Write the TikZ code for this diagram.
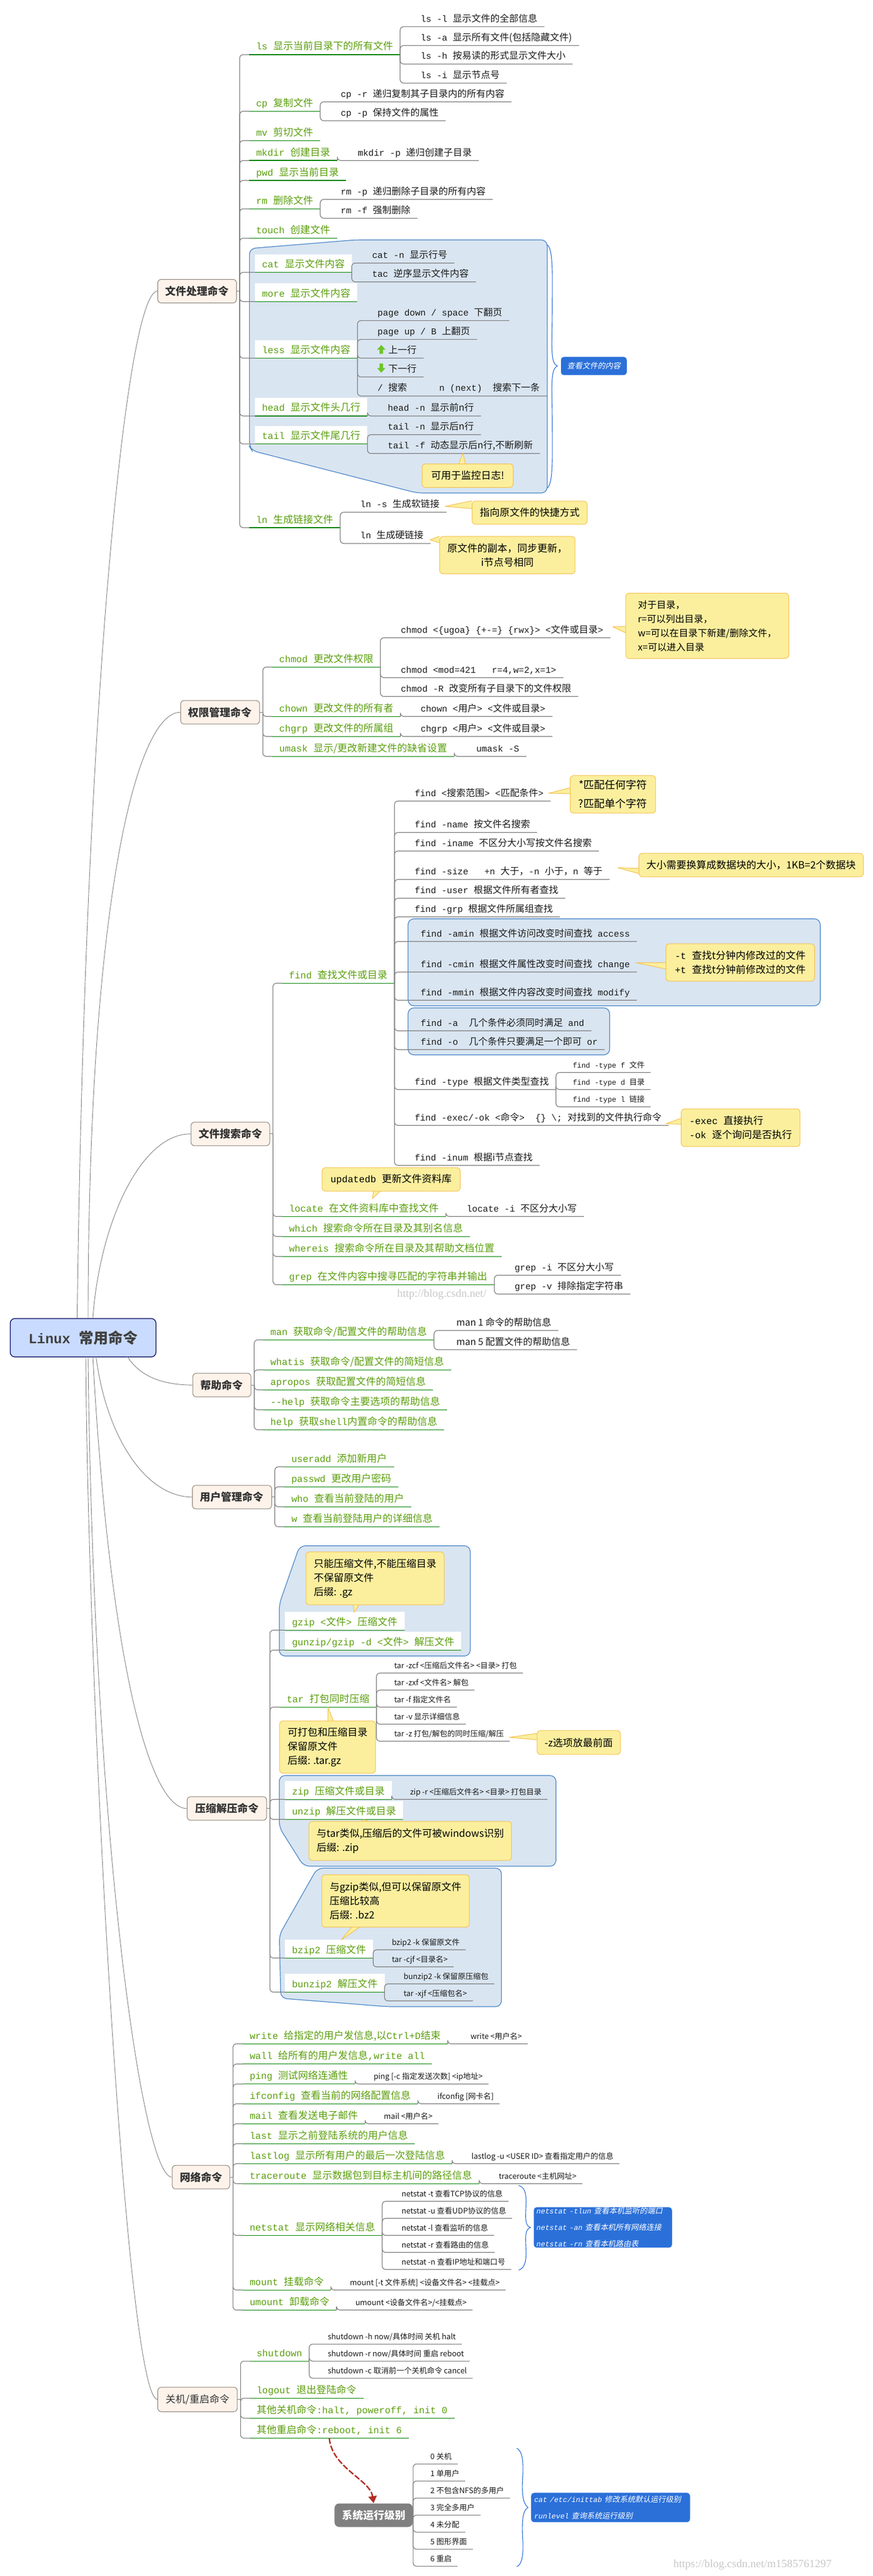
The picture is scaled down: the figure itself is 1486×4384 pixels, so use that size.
\documentclass[tikz,border=0pt]{standalone}
\usepackage{fontspec}
\setmainfont{Noto Sans CJK SC}
\setmonofont{Liberation Mono}[Scale=0.95]
\newfontfamily\slantcjk{Noto Sans CJK SC}[FakeSlant=0.2]
\newfontfamily\markfont{Liberation Serif}
\usetikzlibrary{arrows.meta}
\definecolor{leafgreen}{HTML}{5A9E0C}
\definecolor{rulegreen}{HTML}{0A840A}
\definecolor{stemgrey}{HTML}{808080}
\definecolor{groupblue}{HTML}{D9E5F1}
\definecolor{edgeblue}{HTML}{4A86C8}
\definecolor{notefill}{HTML}{FBEF9E}
\definecolor{noteedge}{HTML}{F5C04F}
\definecolor{pillblue}{HTML}{2B70D9}
\definecolor{topicfill}{HTML}{FDF3EA}
\definecolor{topicedge}{HTML}{8C8378}
\definecolor{rootfill}{HTML}{C9DBFF}
\definecolor{jumpred}{HTML}{B22D24}
\definecolor{keygreen}{HTML}{6CC52A}
\newcommand\m[1]{{\ttfamily #1}}
\newcommand\mi[1]{{\ttfamily\itshape #1}}
\newcommand\hanggreen[2]{\foreach \kid in {#2}{\draw[stem] (#1) |- (\kid.south west); \draw[greenrule] (\kid.south west) -- (\kid.south east);}}
\newcommand\hanggrey[2]{\foreach \kid in {#2}{\draw[stem] (#1) |- (\kid.south west) -- (\kid.south east);}}
\newcommand\hub[1]{\coordinate (#1j) at ([xshift=2.5pt]#1.east); \draw[stem] (#1.east) -- (#1j);}
\tikzset{
	stem/.style = {draw=stemgrey,line width=.6pt,rounded corners=3pt},
	greenrule/.style = {draw=rulegreen,line width=.75pt},
	root link/.style = {draw=stemgrey,line width=.45pt},
	plain row/.style = {anchor=south west,inner xsep=6pt,inner ysep=0pt,outer sep=0pt,text height=11.5pt,text depth=4pt},
	branch/.style = {plain row,text=leafgreen,font=\fontsize{8.5}{10}\selectfont},
	branchw/.style = {branch,fill=white},
	kid/.style = {plain row,text=black!90,font=\fontsize{8}{10}\selectfont},
	tiny/.style = {plain row,inner xsep=5pt,text=black!90,font=\fontsize{6.5}{8}\selectfont},
	topic/.style = {anchor=north west,draw=topicedge,fill=topicfill,rounded corners=3pt,line width=.5pt,inner sep=0pt,minimum height=20pt,text=black!80,font=\fontsize{9}{11}\selectfont\bfseries},
	group/.style = {draw=edgeblue,fill=groupblue,line width=.6pt,rounded corners=5pt},
	note/.style = {anchor=north west,draw=noteedge,fill=notefill,rounded corners=3pt,line width=.5pt,inner sep=0pt,align=left,text=black,font=\fontsize{8.5}{12}\selectfont},
	notetail/.style = {draw=noteedge,fill=notefill,line width=.5pt,line join=round},
	pill/.style = {anchor=north west,fill=pillblue,rounded corners=2.5pt,inner sep=0pt,align=left,text=white,font=\fontsize{6.5}{14}\selectfont\slantcjk},
	bracket/.style = {draw=pillblue,line width=.55pt},
	stamp/.style = {inner sep=0pt,text=black!22,font=\fontsize{9.5}{11}\selectfont\markfont},
	jump/.style = {draw=jumpred,line width=1.2pt,dash pattern=on 5pt off 1.6pt,-{Triangle[length=6pt,width=7pt]}}
}
\begin{document}
\begin{tikzpicture}[x=.5pt,y=-.5pt]
	\useasboundingbox (0,0) rectangle (1486,4384);

	% blue groups sit under everything
	\draw[group] (424.6,423) -- (604,408.3) -- (931.4,408.3) -- (931.4,839) -- (710,839) -- (429,767) -- (424.6,760) -- cycle;
	\draw[group] (694.6,1563.7) rectangle (1396.2,1711.7);
	\draw[group] (694.6,1715.3) rectangle (1037.7,1795.3);
	\draw[group] (510,2630.7) -- (800.4,2630.7) -- (800.4,2818.3) -- (475.4,2818.3) -- (475.4,2730) -- cycle;
	\draw[group] (475.4,3021.7) -- (946.3,3021.7) -- (946.3,3176) -- (517,3176) -- (475.4,3110) -- cycle;
	\draw[group] (540,3179.3) -- (853.5,3179.3) -- (853.5,3415) -- (659,3415) -- (478,3400.7) -- (475.4,3293) -- cycle;

	\node[anchor=north west,draw=black!65!blue,fill=rootfill,rounded corners=4pt,line width=.6pt,inner sep=0pt,minimum width=124pt,minimum height=32.7pt,text=black!75,font=\fontsize{12.5}{14}\selectfont\bfseries] (root) at (16.8,2243.3) {\m{Linux }常用命令};

	% file commands
	\node[topic,minimum width=67pt] (file) at (268,475) {文件处理命令};
	\node[branch] (ls) at (424,93) {\m{ls }显示当前目录下的所有文件};
	\node[kid] (lsa) at (704,45.4) {\m{ls -l }显示文件的全部信息};
	\node[kid] (lsb) at (704,77.5) {\m{ls -a }显示所有文件(包括隐藏文件)};
	\node[kid] (lsc) at (704,109) {\m{ls -h }按易读的形式显示文件大小};
	\node[kid] (lsd) at (704,141.4) {\m{ls -i }显示节点号};
	\node[branch] (cp) at (424,189.3) {\m{cp }复制文件};
	\node[kid] (cpa) at (568,173.2) {\m{cp -r }递归复制其子目录内的所有内容};
	\node[kid] (cpb) at (568,205.4) {\m{cp -p }保持文件的属性};
	\node[branch] (mv) at (424,239.3) {\m{mv }剪切文件};
	\node[branch] (mkdir) at (424,273.2) {\m{mkdir }创建目录};
	\node[kid] (mkdira) at (597,273.2) {\m{mkdir -p }递归创建子目录};
	\node[branch] (pwd) at (424,307) {\m{pwd }显示当前目录};
	\node[branch] (rm) at (424,355.4) {\m{rm }删除文件};
	\node[kid] (rma) at (568,339.3) {\m{rm -p }递归删除子目录的所有内容};
	\node[kid] (rmb) at (568,371.4) {\m{rm -f }强制删除};
	\node[branch] (touch) at (424,405.4) {\m{touch }创建文件};
	\node[branchw] (cat) at (434,463.5) {\m{cat }显示文件内容};
	\node[kid] (cata) at (621.5,447.7) {\m{cat -n }显示行号};
	\node[kid] (catb) at (621.5,479.7) {\m{tac }逆序显示文件内容};
	\node[branchw] (more) at (434,513.3) {\m{more }显示文件内容};
	\node[branchw] (less) at (434,609.5) {\m{less }显示文件内容};
	\node[kid] (lessa) at (630.7,545.6) {\m{page down / space }下翻页};
	\node[kid] (lessb) at (630.7,577.6) {\m{page up / B }上翻页};
	\node[kid] (lessc) at (630.7,609.5) {\hspace{9.2pt}上一行};
	\node[kid] (lessd) at (630.7,641.5) {\hspace{9.2pt}下一行};
	\node[kid] (lesse) at (630.7,673.9) {\m{/ }搜索\m{\ \ \ \ \ \ n (next)\ \ }搜索下一条};
	\node[branchw] (head) at (434,707.9) {\m{head }显示文件头几行};
	\node[kid] (heada) at (648,707.9) {\m{head -n }显示前n行};
	\node[branchw] (tail) at (434,755.6) {\m{tail }显示文件尾几行};
	\node[kid] (taila) at (648,739.8) {\m{tail -n }显示后n行};
	\node[kid] (tailb) at (648,771.8) {\m{tail -f }动态显示后n行,不断刷新};
	\node[branch] (ln) at (424,898) {\m{ln }生成链接文件};
	\node[kid] (lna) at (601.4,871.8) {\m{ln -s }生成软链接};
	\node[kid] (lnb) at (601.4,924.9) {\m{ln }生成硬链接};
	\hub{file}
	\hanggreen{filej}{ls,cp,mv,mkdir,pwd,rm,touch,cat,more,less,head,tail,ln}
	\hanggrey{ls.south east}{lsa,lsb,lsc,lsd}
	\hanggrey{cp.south east}{cpa,cpb}
	\hanggrey{mkdir.south east}{mkdira}
	\hanggrey{rm.south east}{rma,rmb}
	\hanggrey{cat.south east}{cata,catb}
	\hanggrey{less.south east}{lessa,lessb,lessc,lessd,lesse}
	\hanggrey{head.south east}{heada}
	\hanggrey{tail.south east}{taila,tailb}
	\hanggrey{ln.south east}{lna,lnb}
	% the two key arrows
	\fill[keygreen] (649,587) -- (656,595) -- (652,595) -- (652,602) -- (646,602) -- (646,595) -- (642,595) -- cycle;
	\fill[keygreen] (649,634.4) -- (656,626.4) -- (652,626.4) -- (652,618.7) -- (646,618.7) -- (646,626.4) -- (642,626.4) -- cycle;
	\draw[notetail] (781,789) -- (788,771.4) -- (792,789);
	\node[note,minimum width=77.5pt,minimum height=20pt] (monitor) at (718,789) {可用于监控日志!};
	\draw[notetail] (803,852.3) -- (757.5,861.8) -- (803,865.6);
	\node[note,minimum width=98pt,minimum height=19.7pt] (soft) at (803,852.3) {指向原文件的快捷方式};
	\draw[notetail] (748,912.6) -- (731.7,918.7) -- (748,923.7);
	\node[note,align=center,minimum width=115.3pt,minimum height=31.8pt] (hard) at (747.8,912.4) {原文件的副本，同步更新，\\i节点号相同};
	\node[pill,minimum width=56pt,minimum height=15.5pt,align=center] (viewpill) at (954.4,607) {查看文件的内容};
	\coordinate (viewtip) at ([xshift=-2.8pt]viewpill.west);
	\draw[bracket] (931.4,416.6) .. controls (942,424) and (940,470) .. (940,520) .. controls (940,590) and (936,618) .. (viewtip) .. controls (936,628) and (940,660) .. (940,720) .. controls (940,780) and (942,822) .. (931.4,830.7);

	% permission commands
	\node[topic,minimum width=67.2pt] (perm) at (307,1191.7) {权限管理命令};
	\node[branch] (chmod) at (463.4,1135.3) {\m{chmod }更改文件权限};
	\node[kid] (chmoda) at (670.3,1085.3) {\m{chmod <\{ugoa\} \{+-=\} \{rwx\}> <}文件或目录\m{>}};
	\node[kid] (chmodb) at (670.3,1153.3) {\m{chmod <mod=421\ \ \ r=4,w=2,x=1>}};
	\node[kid] (chmodc) at (670.3,1185.3) {\m{chmod -R }改变所有子目录下的文件权限};
	\node[branch] (chown) at (463.4,1219.3) {\m{chown }更改文件的所有者};
	\node[kid] (chowna) at (704,1219.3) {\m{chown <}用户\m{> <}文件或目录\m{>}};
	\node[branch] (chgrp) at (463.4,1253.3) {\m{chgrp }更改文件的所属组};
	\node[kid] (chgrpa) at (704,1253.3) {\m{chgrp <}用户\m{> <}文件或目录\m{>}};
	\node[branch] (umask) at (463.4,1287.3) {\m{umask }显示/更改新建文件的缺省设置};
	\node[kid] (umaska) at (798.8,1287.3) {\m{umask -S}};
	\hub{perm}
	\hanggreen{permj}{chmod,chown,chgrp,umask}
	\hanggrey{chmod.south east}{chmoda,chmodb,chmodc}
	\hanggrey{chown.south east}{chowna}
	\hanggrey{chgrp.south east}{chgrpa}
	\hanggrey{umask.south east}{umaska}
	\draw[notetail] (1065,1066) -- (1043,1066.7) -- (1065,1077);
	\node[note,font=\fontsize{8}{12}\selectfont,minimum width=138.8pt,minimum height=55.5pt] (rwx) at (1064.6,1009) {对于目录，\\r=可以列出目录，\\w=可以在目录下新建/删除文件，\\x=可以进入目录};

	% search commands
	\node[topic,minimum width=67pt] (search) at (324.6,1909.3) {文件搜索命令};
	\node[branch] (find) at (480,1673.3) {\m{find }查找文件或目录};
	\node[kid] (finda) at (694,1363.3) {\m{find <}搜索范围\m{> <}匹配条件\m{>}};
	\node[kid] (findb) at (694,1416.7) {\m{find -name }按文件名搜索};
	\node[kid] (findc) at (694,1448.3) {\m{find -iname }不区分大小写按文件名搜索};
	\node[kid] (findd) at (694,1496.7) {\m{find -size\ \ \ +n }大于，\m{-n }小于，\m{n }等于};
	\node[kid] (finde) at (694,1528.7) {\m{find -user }根据文件所有者查找};
	\node[kid] (findf) at (694,1560.3) {\m{find -grp }根据文件所属组查找};
	\node[kid] (findg) at (704,1602.3) {\m{find -amin }根据文件访问改变时间查找\m{ access}};
	\node[kid] (findh) at (704,1654.3) {\m{find -cmin }根据文件属性改变时间查找\m{ change}};
	\node[kid] (findi) at (704,1702.3) {\m{find -mmin }根据文件内容改变时间查找\m{ modify}};
	\node[kid] (findj) at (704,1754.3) {\m{find -a\ \ }几个条件必须同时满足\m{ and}};
	\node[kid] (findk) at (704,1786.3) {\m{find -o\ \ }几个条件只要满足一个即可\m{ or}};
	\node[kid] (findl) at (694,1854.3) {\m{find -type }根据文件类型查找};
	\node[tiny] (typea) at (965,1825.3) {\m{find -type f }文件};
	\node[tiny] (typeb) at (965,1854.3) {\m{find -type d }目录};
	\node[tiny] (typec) at (965,1883.7) {\m{find -type l }链接};
	\node[kid] (findm) at (694,1915.3) {\m{find -exec/-ok <}命令\m{>\ \ \{\} \textbackslash; }对找到的文件执行命令};
	\node[kid] (findn) at (694,1983.3) {\m{find -inum }根据i节点查找};
	\node[branch] (locate) at (480,2070.3) {\m{locate }在文件资料库中查找文件};
	\node[kid] (locatea) at (782.6,2070.3) {\m{locate -i }不区分大小写};
	\node[branch] (which) at (480,2104.3) {\m{which }搜索命令所在目录及其别名信息};
	\node[branch] (whereis) at (480,2138.3) {\m{whereis }搜索命令所在目录及其帮助文档位置};
	\node[branch] (grep) at (480,2186.3) {\m{grep }在文件内容中搜寻匹配的字符串并输出};
	\node[kid] (grepa) at (864,2170.3) {\m{grep -i }不区分大小写};
	\node[kid] (grepb) at (864,2202.3) {\m{grep -v }排除指定字符串};
	\hub{search}
	\hanggreen{searchj}{find,locate,which,whereis,grep}
	\hanggrey{find.south east}{finda,findb,findc,findd,finde,findf,findg,findh,findi,findj,findk,findl,findm,findn}
	\hanggrey{findl.south east}{typea,typeb,typec}
	\hanggrey{locate.south east}{locatea}
	\hanggrey{grep.south east}{grepa,grepb}
	\draw[notetail] (970,1340.7) -- (933.8,1350) -- (970,1350.7);
	\node[note,font=\fontsize{9}{16}\selectfont,align=center,minimum width=72.7pt,minimum height=32pt] (wild) at (970,1319.3) {*匹配任何字符\\?匹配单个字符};
	\draw[notetail] (1087,1477.7) -- (1051.5,1476.7) -- (1087,1486.7);
	\node[note,minimum width=191pt,minimum height=20pt] (size) at (1087,1451.7) {大小需要换算成数据块的大小，1KB=2个数据块};
	\draw[notetail] (1133,1638.3) -- (1082.3,1638.3) -- (1133,1649);
	\node[note,minimum width=126.5pt,minimum height=31.8pt] (minutes) at (1133,1605.7) {\m{-t }查找t分钟内修改过的文件\\\m{+t }查找t分钟前修改过的文件};
	\draw[notetail] (1159,1903.3) -- (1133.8,1912.3) -- (1159,1913.3);
	\node[note,minimum width=101.2pt,minimum height=32pt] (exec) at (1159,1886.7) {\m{-exec }直接执行\\\m{-ok }逐个询问是否执行};
	\draw[notetail] (636,2026.7) -- (633.8,2040) -- (647.7,2026.7);
	\node[note,minimum width=117.6pt,minimum height=20pt,align=center] (updatedb) at (547.7,1986.7) {\m{updatedb }更新文件资料库};
	\node[stamp] (markone) at (752,2203) {http://blog.csdn.net/};

	% help commands
	\node[topic,minimum width=49.5pt] (help) at (327.7,2336.7) {帮助命令};
	\node[branch] (man) at (448.4,2280.3) {\m{man }获取命令/配置文件的帮助信息};
	\node[kid] (mana) at (764.8,2264.3) {man 1 命令的帮助信息};
	\node[kid] (manb) at (764.8,2297) {man 5 配置文件的帮助信息};
	\node[branch] (whatis) at (448.4,2331.3) {\m{whatis }获取命令/配置文件的简短信息};
	\node[branch] (apropos) at (448.4,2365.3) {\m{apropos }获取配置文件的简短信息};
	\node[branch] (dhelp) at (448.4,2399.3) {\m{--help }获取命令主要选项的帮助信息};
	\node[branch] (helpb) at (448.4,2433.3) {\m{help }获取\m{shell}内置命令的帮助信息};
	\hub{help}
	\hanggreen{helpj}{man,whatis,apropos,dhelp,helpb}
	\hanggrey{man.south east}{mana,manb}

	% user commands
	\node[topic,minimum width=67.4pt] (user) at (327,2527.3) {用户管理命令};
	\node[branch] (useradd) at (484,2496.3) {\m{useradd }添加新用户};
	\node[branch] (passwd) at (484,2530.3) {\m{passwd }更改用户密码};
	\node[branch] (who) at (484,2564.3) {\m{who }查看当前登陆的用户};
	\node[branch] (wcmd) at (484,2598.3) {\m{w }查看当前登陆用户的详细信息};
	\hub{user}
	\hanggreen{userj}{useradd,passwd,who,wcmd}

	% compress commands
	\node[topic,minimum width=67.7pt] (zipper) at (318,3057.3) {压缩解压命令};
	\node[branchw] (gzip) at (485,2774.3) {\m{gzip <}文件\m{> }压缩文件};
	\node[branchw] (gunzip) at (485,2808.3) {\m{gunzip/gzip -d <}文件\m{> }解压文件};
	\node[branch] (tar) at (476,2905.3) {\m{tar }打包同时压缩};
	\node[tiny] (tara) at (661,2847.3) {tar -zcf <压缩后文件名> <目录> 打包};
	\node[tiny] (tarb) at (661,2876.3) {tar -zxf <文件名> 解包};
	\node[tiny] (tarc) at (661,2905.3) {tar -f 指定文件名};
	\node[tiny] (tard) at (661,2934.3) {tar -v 显示详细信息};
	\node[tiny] (tare) at (661,2963.3) {tar -z 打包/解包的同时压缩/解压};
	\node[branchw] (zip) at (485,3062.3) {\m{zip }压缩文件或目录};
	\node[tiny] (zipa) at (688,3062.3) {zip -r <压缩后文件名> <目录> 打包目录};
	\node[branchw] (unzip) at (485,3096.3) {\m{unzip }解压文件或目录};
	\node[branchw] (bzip) at (485,3332.3) {\m{bzip2 }压缩文件};
	\node[tiny] (bzipa) at (657,3318.3) {bzip2 -k 保留原文件};
	\node[tiny] (bzipb) at (657,3347.3) {tar -cjf <目录名>};
	\node[branchw] (bunzip) at (485,3390.3) {\m{bunzip2 }解压文件};
	\node[tiny] (bunzipa) at (677,3376.3) {bunzip2 -k 保留原压缩包};
	\node[tiny] (bunzipb) at (677,3405.3) {tar -xjf <压缩包名>};
	\hub{zipper}
	\hanggreen{zipperj}{gzip,gunzip,tar,zip,unzip,bzip,bunzip}
	\hanggrey{tar.south east}{tara,tarb,tarc,tard,tare}
	\hanggrey{zip.south east}{zipa}
	\hanggrey{bzip.south east}{bzipa,bzipb}
	\hanggrey{bunzip.south east}{bunzipa,bunzipb}
	\draw[notetail] (601.4,2730.7) -- (602.4,2744) -- (611.6,2730.7);
	\node[note,minimum width=117.6pt,minimum height=45pt] (gznote) at (520.3,2640.7) {只能压缩文件,不能压缩目录\\不保留原文件\\后缀: .gz};
	\draw[notetail] (558,2928.3) -- (558,2905.3) -- (567.2,2928.3);
	\node[note,minimum width=81.6pt,minimum height=44.5pt] (tarnote) at (475.4,2928.3) {可打包和压缩目录\\保留原文件\\后缀: .tar.gz};
	\draw[notetail] (913.7,2950) -- (866.7,2956.7) -- (913.7,2960.7);
	\node[note,minimum width=71pt,minimum height=20.3pt] (znote) at (913.7,2944.7) {-z选项放最前面};
	\draw[notetail] (616.7,3099.3) -- (619.3,3096.7) -- (627,3099.3);
	\node[note,minimum width=172.4pt,minimum height=33.2pt] (zipnote) at (525.4,3099.3) {与tar类似,压缩后的文件可被windows识别\\后缀: .zip};
	\draw[notetail] (598.9,3279.3) -- (581,3301.3) -- (612.7,3279.3);
	\node[note,minimum width=125.5pt,minimum height=44.6pt] (bznote) at (547.3,3190) {与gzip类似,但可以保留原文件\\压缩比较高\\后缀: .bz2};

	% network commands
	\node[topic,minimum width=49pt] (net) at (292.6,3684.7) {网络命令};
	\node[branch] (write) at (413,3478.3) {\m{write }给指定的用户发信息,以\m{Ctrl+D}结束};
	\node[tiny] (writea) at (791,3478.3) {write <用户名>};
	\node[branch] (wall) at (413,3512.7) {\m{wall }给所有的用户发信息\m{,write all}};
	\node[branch] (ping) at (413,3546.7) {\m{ping }测试网络连通性};
	\node[tiny] (pinga) at (626,3546.7) {ping [-c 指定发送次数] <ip地址>};
	\node[branch] (ifconfig) at (413,3580.3) {\m{ifconfig }查看当前的网络配置信息};
	\node[tiny] (ifconfiga) at (734.7,3580.3) {ifconfig [网卡名]};
	\node[branch] (mail) at (413,3614.3) {\m{mail }查看发送电子邮件};
	\node[tiny] (maila) at (643.4,3614.3) {mail <用户名>};
	\node[branch] (last) at (413,3648.3) {\m{last }显示之前登陆系统的用户信息};
	\node[branch] (lastlog) at (413,3682.3) {\m{lastlog }显示所有用户的最后一次登陆信息};
	\node[tiny] (lastloga) at (792.7,3682.3) {lastlog -u <USER ID> 查看指定用户的信息};
	\node[branch] (trace) at (413,3716.3) {\m{traceroute }显示数据包到目标主机间的路径信息};
	\node[tiny] (tracea) at (839,3716.3) {traceroute <主机网址>};
	\node[branch] (netstat) at (413,3804.3) {\m{netstat }显示网络相关信息};
	\node[tiny] (neta) at (673.6,3746.3) {netstat -t 查看TCP协议的信息};
	\node[tiny] (netb) at (673.6,3775.3) {netstat -u 查看UDP协议的信息};
	\node[tiny] (netc) at (673.6,3804.3) {netstat -l 查看监听的信息};
	\node[tiny] (netd) at (673.6,3833.3) {netstat -r 查看路由的信息};
	\node[tiny] (nete) at (673.6,3862.3) {netstat -n 查看IP地址和端口号};
	\node[branch] (mount) at (413,3897.3) {\m{mount }挂载命令};
	\node[tiny] (mounta) at (585.6,3897.3) {mount [-t 文件系统] <设备文件名> <挂载点>};
	\node[branch] (umount) at (413,3931.3) {\m{umount }卸载命令};
	\node[tiny] (umounta) at (595,3931.3) {umount <设备文件名>/<挂载点>};
	\hub{net}
	\hanggreen{netj}{write,wall,ping,ifconfig,mail,last,lastlog,trace,netstat,mount,umount}
	\foreach \row/\rowkid in {write/writea,ping/pinga,ifconfig/ifconfiga,mail/maila,lastlog/lastloga,trace/tracea,mount/mounta,umount/umounta}{
		\hanggrey{\row.south east}{\rowkid}
	}
	\hanggrey{netstat.south east}{neta,netb,netc,netd,nete}
	\node[pill,minimum width=117.6pt,minimum height=34.4pt,text width=113pt] (netpill) at (908.2,3756) {\mi{netstat -tlun }查看本机监听的端口\\\mi{netstat -an }查看本机所有网络连接\\\mi{netstat -rn }查看本机路由表};
	\coordinate (nettip) at ([xshift=-2.6pt]netpill.west);
	\draw[bracket] (882.7,3719.3) .. controls (892,3722) and (896,3730) .. (895.4,3750) .. controls (895,3770) and (892,3788) .. (nettip) .. controls (892,3794) and (895,3812) .. (895.4,3832) .. controls (896,3850) and (892,3861) .. (882.7,3863.3);

	% power commands
	\node[topic,font=\fontsize{8.5}{11}\selectfont,minimum width=67.7pt,minimum height=20.7pt] (power) at (268,4062.3) {关机/重启命令};
	\node[branch] (shutdown) at (424.8,4018.3) {\m{shutdown}};
	\node[tiny] (downa) at (548,3989.3) {shutdown -h now/具体时间 关机 halt};
	\node[tiny] (downb) at (548,4018.3) {shutdown -r now/具体时间 重启 reboot};
	\node[tiny] (downc) at (548,4047.3) {shutdown -c 取消前一个关机命令 cancel};
	\node[branch] (logout) at (424.8,4081.3) {\m{logout }退出登陆命令};
	\node[branch] (halt) at (424.8,4115.3) {其他关机命令\m{:halt, poweroff, init 0}};
	\node[branch] (reboot) at (424.8,4149.3) {其他重启命令\m{:reboot, init 6}};
	\hub{power}
	\hanggreen{powerj}{shutdown,logout,halt,reboot}
	\hanggrey{shutdown.south east}{downa,downb,downc}

	% run levels
	\node[topic,draw=none,fill=stemgrey,text=white,rounded corners=4pt,minimum width=66.6pt] (level) at (568.9,4260) {系统运行级别};
	\node[tiny] (levela) at (722.7,4193.3) {0 关机};
	\node[tiny] (levelb) at (722.7,4222.3) {1 单用户};
	\node[tiny] (levelc) at (722.7,4251.3) {2 不包含NFS的多用户};
	\node[tiny] (leveld) at (722.7,4280.3) {3 完全多用户};
	\node[tiny] (levele) at (722.7,4309.3) {4 未分配};
	\node[tiny] (levelf) at (722.7,4338.3) {5 图形界面};
	\node[tiny] (levelg) at (722.7,4367.3) {6 重启};
	\hanggrey{level.east}{levela,levelb,levelc,leveld,levele,levelf,levelg}
	\draw[jump] (reboot.south) .. controls (565,4200) and (630,4220) .. (level.north);
	\node[pill,minimum width=135.2pt,minimum height=25pt,text width=130pt] (levelpill) at (903.7,4242) {\mi{cat /etc/inittab }修改系统默认运行级别\\\mi{runlevel }查询系统运行级别};
	\coordinate (leveltip) at ([xshift=-2.5pt]levelpill.west);
	\draw[bracket] (879.5,4166.7) .. controls (888,4170) and (891,4185) .. (890,4210) .. controls (888,4240) and (889,4260) .. (leveltip) .. controls (889,4272) and (888,4295) .. (890,4325) .. controls (891,4350) and (888,4365) .. (879.5,4368);

	% links from the root
	\draw[root link] ([xshift=-5pt]root.north) .. controls (144,1200) and (215,495) .. (file.west);
	\draw[root link] (150,2243.3) .. controls (150,1550) and (230,1211.7) .. (perm.west);
	\draw[root link] (158,2243.3) .. controls (170,2080) and (240,1929) .. (search.west);
	\draw[root link] (216.8,2308.7) .. controls (240,2345) and (280,2356.7) .. (help.west);
	\draw[root link] (163.5,2308.7) .. controls (180,2440) and (245,2547) .. (user.west);
	\draw[root link] (158,2308.7) .. controls (185,2800) and (250,3077) .. (zipper.west);
	\draw[root link] (150,2308.7) .. controls (158,3100) and (240,3704) .. (net.west);
	\draw[root link] (146,2308.7) .. controls (150,2900) and (215,4083) .. (power.west);

	\node[stamp,anchor=west] (marktwo) at (1146,4365) {https://blog.csdn.net/m1585761297};
\end{tikzpicture}
\end{document}
